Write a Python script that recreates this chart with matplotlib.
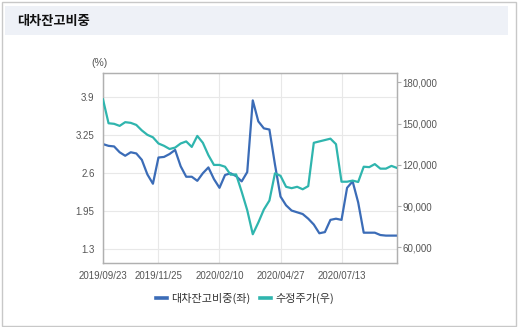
import numpy as np
import matplotlib
matplotlib.use("Agg")
import matplotlib.pyplot as plt
from matplotlib.patches import Rectangle
from matplotlib.lines import Line2D

plt.rcParams['font.family'] = ['Liberation Sans', 'Noto Sans CJK KR', 'DejaVu Sans']

# Weekly series (54 points)
short_ratio = [3.10, 3.07, 3.06, 2.96, 2.90, 2.96, 2.94, 2.83, 2.58, 2.42,
               2.87, 2.88, 2.93, 3.00, 2.72, 2.54, 2.54, 2.47, 2.60, 2.70,
               2.50, 2.35, 2.57, 2.60, 2.55, 2.46, 2.62, 3.85, 3.49, 3.37,
               3.35, 2.75, 2.20, 2.05, 1.96, 1.93, 1.90, 1.82, 1.72, 1.57,
               1.59, 1.80, 1.82, 1.80, 2.35, 2.46, 2.10, 1.58, 1.58, 1.58,
               1.54, 1.53, 1.53, 1.53]
adj_price = [167600, 150200, 149800, 148300, 151000, 150500, 149000, 145000, 141800, 140000,
             135500, 133800, 131500, 132500, 135500, 137000, 133000, 141000, 136000, 127000,
             119900, 119900, 118600, 112800, 113000, 100400, 87000, 69500, 78000, 87500,
             94000, 113800, 112000, 104000, 103000, 104000, 102200, 104500, 136000, 137000,
             138000, 139000, 135000, 107700, 107700, 108500, 107500, 118600, 118300, 120500,
             117200, 117200, 119200, 117700]

date_tick_pos = [0, 10, 21, 32, 43]
date_tick_labels = ['2019/09/23', '2019/11/25', '2020/02/10', '2020/04/27', '2020/07/13']
left_ticks = [1.3, 1.95, 2.6, 3.25, 3.9]
right_ticks = [60000, 90000, 120000, 150000, 180000]

title = '대차잔고비중'
label_left = '대차잔고비중(좌)'
label_right = '수정주가(우)'

BLUE = '#3b6cb7'
TEAL = '#2fb5ae'
GRID = '#e8e8e8'
SPINE = '#b0b0b0'
TXT = '#555555'

W, H = 518, 327
fig = plt.figure(figsize=(W / 100, H / 100), dpi=100)
fig.patch.set_facecolor('white')

# outer frame and title bar
fig.add_artist(Rectangle((1.5 / W, 1 - 325.5 / H), 514 / W, 324 / H, transform=fig.transFigure,
                         fill=False, edgecolor='#c8c8c8', linewidth=1.0))
fig.add_artist(Rectangle((5 / W, 1 - 35 / H), 503 / W, 29 / H, transform=fig.transFigure,
                         facecolor='#eef1f7', edgecolor='none'))
fig.text(17 / W, 1 - 20.5 / H, title, fontsize=9.5, fontweight='bold', color='#111111',
         va='center', ha='left', family=['Noto Sans CJK KR', 'DejaVu Sans'])

ax = fig.add_axes([103 / W, 1 - 263 / H, 294 / W, 190 / H])
ax2 = ax.twinx()

x = np.arange(len(short_ratio))
ax.plot(x, short_ratio, color=BLUE, linewidth=1.6, zorder=3)
ax2.plot(x, adj_price, color=TEAL, linewidth=1.6, zorder=3)

ax.set_xlim(0, len(short_ratio) - 1)
ax.set_ylim(1.06, 4.32)
ax2.set_ylim(48580, 186760)

ax.set_xticks(date_tick_pos)
ax.set_xticklabels(date_tick_labels)
ax.set_yticks(left_ticks)
ax.set_yticklabels([f'{v:g}' for v in left_ticks])
ax2.set_yticks(right_ticks)
ax2.set_yticklabels([f'{v:,}' for v in right_ticks])

ax.grid(True, color=GRID, linewidth=0.8)
ax.set_axisbelow(True)

ax.tick_params(axis='x', length=0, pad=6, labelsize=7, labelcolor=TXT)
ax.tick_params(axis='y', length=0, pad=6, labelsize=7, labelcolor=TXT)
ax2.tick_params(axis='y', length=3, width=0.8, color=SPINE, pad=1, labelsize=7, labelcolor=TXT)

for a in (ax, ax2):
    for s in a.spines.values():
        s.set_color(SPINE)
        s.set_linewidth(0.9)

fig.text(99 / W, 1 - 63 / H, '(%)', fontsize=7.5, color=TXT, ha='center', va='center')

handles = [Line2D([], [], color=BLUE, linewidth=2.6),
           Line2D([], [], color=TEAL, linewidth=2.6)]
fig.legend(handles, [label_left, label_right], loc='center', bbox_to_anchor=(245 / W, 1 - 298 / H),
           ncol=2, frameon=False, handlelength=1.0, handletextpad=0.35, columnspacing=0.9,
           prop={'family': ['Noto Sans CJK KR', 'DejaVu Sans'], 'size': 8}, labelcolor='#333333')

fig.savefig('out.png', dpi=100, facecolor='white')
